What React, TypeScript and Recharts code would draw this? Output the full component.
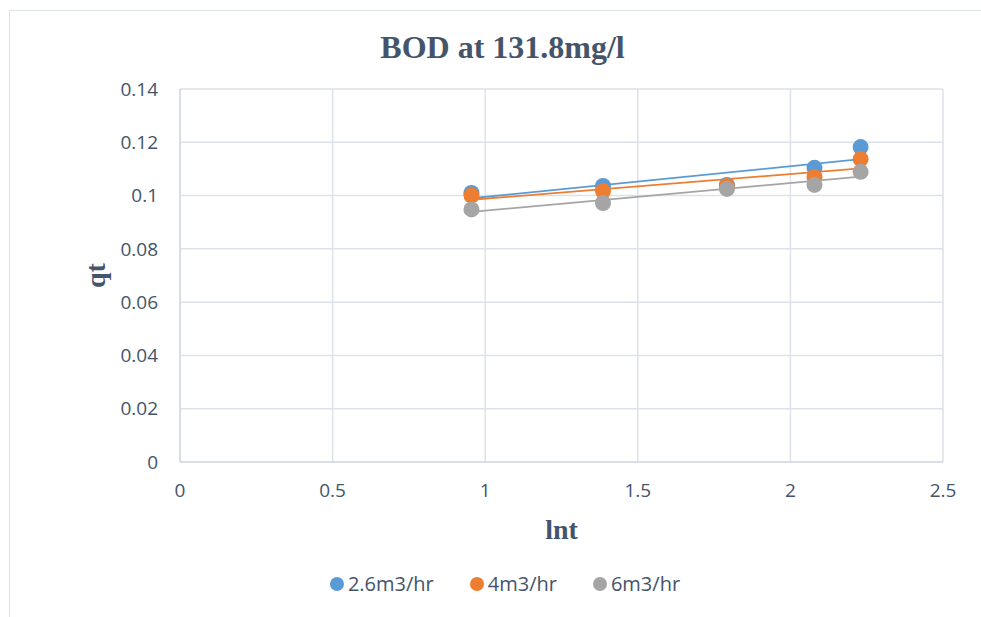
import React from 'react';
import { ScatterChart, Scatter, XAxis, YAxis, CartesianGrid, ReferenceLine, Label } from 'recharts';

const lnt = [0.955, 1.386, 1.792, 2.079, 2.23];
const q26 = [0.101, 0.1036, 0.104, 0.1104, 0.1182];
const q4 = [0.1, 0.1017, 0.1036, 0.107, 0.1137];
const q6 = [0.0948, 0.0972, 0.1025, 0.104, 0.1089];
const seriesNames = ['2.6m3/hr', '4m3/hr', '6m3/hr'];
const colors = ['#5b9bd5', '#ed7d31', '#a5a5a5'];
const xTicks = [0, 0.5, 1, 1.5, 2, 2.5];
const yTicks = [0, 0.02, 0.04, 0.06, 0.08, 0.1, 0.12, 0.14];

const textColor = '#44546a';
const sans = '"Open Sans", "Noto Sans", sans-serif';
const serif = '"Liberation Serif", "Times New Roman", serif';

// least-squares trendline, from first to last x
const trend = (xs: number[], ys: number[]) => {
  const n = xs.length;
  const mx = xs.reduce((a, b) => a + b, 0) / n;
  const my = ys.reduce((a, b) => a + b, 0) / n;
  let sxy = 0, sxx = 0;
  xs.forEach((x, i) => { sxy += (x - mx) * (ys[i] - my); sxx += (x - mx) * (x - mx); });
  const k = sxy / sxx;
  const x0 = Math.min(...xs), x1 = Math.max(...xs);
  return [{ x: x0, y: my + k * (x0 - mx) }, { x: x1, y: my + k * (x1 - mx) }];
};

const series = [q26, q4, q6].map((ys, i) => ({
  name: seriesNames[i],
  color: colors[i],
  points: lnt.map((x, j) => ({ x, y: ys[j] })),
  line: trend(lnt, ys),
}));

const Dot = (props: any) => <circle cx={props.cx} cy={props.cy} r={8} fill={props.fill} />;

const App: React.FC = () => {
  return (
    <div style={{ position: 'fixed', left: 0, top: 0, width: 981, height: 617, background: '#fff', overflow: 'hidden' }}>
      <div style={{ position: 'absolute', left: 9, top: 10, width: 1000, height: 700, border: '1px solid #dde2e9' }} />
      <div style={{ position: 'absolute', left: 0, top: 29, width: 1005, textAlign: 'center', fontFamily: serif, fontWeight: 'bold', fontSize: 32, color: textColor }}>
        BOD at 131.8mg/l
      </div>
      <div style={{ position: 'absolute', left: 0, top: 0 }}>
        <ScatterChart width={981} height={617} margin={{ top: 89, right: 38, left: 80, bottom: 65 }}>
          <CartesianGrid stroke="#dde2e9" strokeWidth={1.5} />
          <XAxis
            type="number"
            dataKey="x"
            domain={[0, 2.5]}
            ticks={xTicks}
            tickSize={0}
            tickMargin={22}
            height={90}
            stroke="#cfd5de"
            tick={{ fill: textColor, fontSize: 19, fontFamily: sans }}
          >
            <Label value="lnt" position="insideBottom" offset={13} style={{ fill: textColor, fontFamily: serif, fontWeight: 'bold', fontSize: 28 }} />
          </XAxis>
          <YAxis
            type="number"
            dataKey="y"
            domain={[0, 0.14]}
            ticks={yTicks}
            tickSize={0}
            tickMargin={22}
            width={100}
            stroke="#cfd5de"
            tick={{ fill: textColor, fontSize: 19, fontFamily: sans }}
          >
            <Label value="qt" angle={-90} position="insideLeft" offset={15} style={{ textAnchor: 'middle', fill: textColor, fontFamily: serif, fontWeight: 'bold', fontSize: 28 }} />
          </YAxis>
          {series.map((s) => (
            <Scatter key={s.name} name={s.name} data={s.points} fill={s.color} shape={Dot} isAnimationActive={false} />
          ))}
          {series.map((s) => (
            <ReferenceLine key={s.name + '-trend'} segment={s.line} stroke={s.color} strokeWidth={1.8} />
          ))}
        </ScatterChart>
      </div>
      <div style={{ position: 'absolute', left: 0, top: 570, width: 1010, display: 'flex', justifyContent: 'center', gap: 36, fontFamily: sans, fontSize: 20, color: textColor }}>
        {series.map((s) => (
          <div key={s.name} style={{ display: 'flex', alignItems: 'center' }}>
            <span style={{ display: 'inline-block', width: 14, height: 14, borderRadius: 7, background: s.color, marginRight: 4 }} />
            {s.name}
          </div>
        ))}
      </div>
    </div>
  );
};

export default App;
